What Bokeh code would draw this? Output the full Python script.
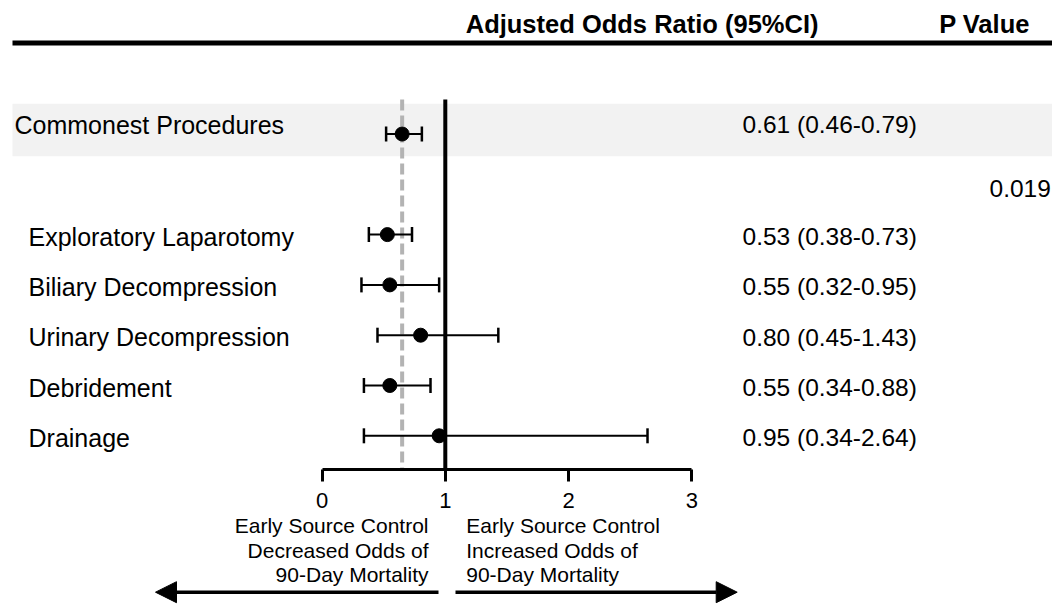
from bokeh.plotting import figure
from bokeh.models import (Range1d, ColumnDataSource, Whisker, TeeHead, FixedTicker, Arrow,
                          NormalHead, LinearAxis)
from bokeh.embed import file_html
from bokeh.resources import INLINE
from bokeh.core.properties import value

# ---------------- data ----------------
categories = ["Commonest Procedures", "Exploratory Laparotomy", "Biliary Decompression",
              "Urinary Decompression", "Debridement", "Drainage"]
odds_ratio = [0.65, 0.53, 0.55, 0.80, 0.55, 0.95]
ci_lower = [0.52, 0.38, 0.32, 0.45, 0.34, 0.34]
ci_upper = [0.81, 0.73, 0.95, 1.43, 0.88, 2.64]
or_labels = ["0.61 (0.46-0.79)", "0.53 (0.38-0.73)", "0.55 (0.32-0.95)",
             "0.80 (0.45-1.43)", "0.55 (0.34-0.88)", "0.95 (0.34-2.64)"]
p_value_label = ["0.019"]
tick_values = [0, 1, 2, 3]
header_labels = ["Adjusted Odds Ratio (95%CI)", "P Value"]
left_note = ["Early Source Control", "Decreased Odds of", "90-Day Mortality"]
right_note = ["Early Source Control", "Increased Odds of", "90-Day Mortality"]

# ---------------- layout constants ----------------
FONT = "Liberation Sans"
W, H = 1052, 604
AXIS_Y = 469         # px of the odds-ratio axis line
X_ZERO = 321.5       # px where OR = 0
UNIT = 123.3         # px per OR unit
ROW0 = 133.5         # px of the first row
ROW = 50.3           # px per row


def fx(px):
    return (px - X_ZERO) / UNIT


def fy(px):
    return (px - ROW0) / ROW


p = figure(width=W, height=H, x_range=Range1d(fx(0), fx(W)),
           y_range=Range1d(fy(H), fy(0)),
           output_backend="svg", toolbar_location=None, title=None,
           x_axis_location=None, y_axis_location=None,
           min_border_left=0, min_border_right=0, min_border_top=0, min_border_bottom=0)
p.outline_line_color = None
p.grid.visible = False
p.background_fill_color = "white"
p.border_fill_color = "white"

rows = [0] + list(range(2, len(categories) + 1))
src = ColumnDataSource(dict(cat=categories, y=rows, orv=odds_ratio, lo=ci_lower, hi=ci_upper,
                            lab=or_labels,
                            ytxt=[r + (-9.5 if i == 0 else 2) / ROW for i, r in enumerate(rows)],
                            xtxt=[fx(14) if i == 0 else fx(28) for i in range(len(rows))]))

# shaded band for the pooled row
p.quad(left=fx(12), right=fx(W), bottom=fy(155.7), top=fy(103.3),
       fill_color="#f2f2f2", line_color=None, level="underlay")

# header rule
p.segment(x0=fx(12), x1=fx(W), y0=fy(42.5), y1=fy(42.5), line_color="black", line_width=5)

# header texts
p.text(x=[fx(641.6), fx(984)], y=[fy(23), fy(23)], text=header_labels,
       text_font=value(FONT), text_font_size=value("25.5px"), text_font_style="bold",
       text_align="center", text_baseline="middle", text_color="black")

# reference lines
p.segment(x0=odds_ratio[0], x1=odds_ratio[0], y0=fy(99), y1=fy(AXIS_Y),
          line_color="#b3b3b3", line_width=4, line_dash="11 5")
p.segment(x0=1, x1=1, y0=fy(99), y1=fy(AXIS_Y), line_color="black", line_width=4)

# error bars
wh = Whisker(source=src, base="y", lower="lo", upper="hi", dimension="width",
             line_color="black", line_width=2, level="glyph",
             lower_head=TeeHead(size=15, line_width=2.5, line_color="black"),
             upper_head=TeeHead(size=15, line_width=2.5, line_color="black"))
p.add_layout(wh)
p.scatter(x="orv", y="y", source=src, size=14, fill_color="black", line_color="black")

# row labels and OR text
p.text(x="xtxt", y="ytxt", text="cat", source=src, text_font=value(FONT),
       text_font_size=value("25px"), text_align="left", text_baseline="middle",
       text_color="black")
p.text(x=fx(742), y="ytxt", text="lab", source=src, text_font=value(FONT),
       text_font_size=value("24.5px"), text_align="left", text_baseline="middle",
       text_color="black")
p.text(x=[fx(989)], y=[fy(187.5)], text=p_value_label, text_font=value(FONT),
       text_font_size=value("24.5px"), text_align="left", text_baseline="middle",
       text_color="black")

# odds-ratio axis, fixed inside the frame
ax = LinearAxis(fixed_location=fy(AXIS_Y))
ax.ticker = FixedTicker(ticks=tick_values)
ax.bounds = (tick_values[0], tick_values[-1])
ax.axis_line_width = 3
ax.axis_line_color = "black"
ax.major_tick_line_width = 3
ax.major_tick_line_color = "black"
ax.major_tick_out = 12
ax.major_tick_in = 0
ax.minor_tick_line_color = None
ax.major_label_standoff = 11
ax.major_label_text_font = FONT
ax.major_label_text_font_size = "22px"
ax.major_label_text_color = "black"
p.add_layout(ax, "below")

# direction notes
line_mid = [fy(524.7), fy(549.5), fy(574)]
p.text(x=[fx(428)] * 3, y=line_mid, text=left_note, text_font=value(FONT),
       text_font_size=value("21px"), text_align="right", text_baseline="middle",
       text_color="black")
p.text(x=[fx(465.7)] * 3, y=line_mid, text=right_note, text_font=value(FONT),
       text_font_size=value("21px"), text_align="left", text_baseline="middle",
       text_color="black")

ARROW_Y = fy(591.7)
p.add_layout(Arrow(x_start=fx(438), y_start=ARROW_Y, x_end=fx(155), y_end=ARROW_Y,
                   line_width=3.5, line_color="black",
                   end=NormalHead(size=21, fill_color="black", line_color="black", line_width=1)))
p.add_layout(Arrow(x_start=fx(455), y_start=ARROW_Y, x_end=fx(736.7), y_end=ARROW_Y,
                   line_width=3.5, line_color="black",
                   end=NormalHead(size=21, fill_color="black", line_color="black", line_width=1)))

open("out.html", "w").write(file_html(p, INLINE))
